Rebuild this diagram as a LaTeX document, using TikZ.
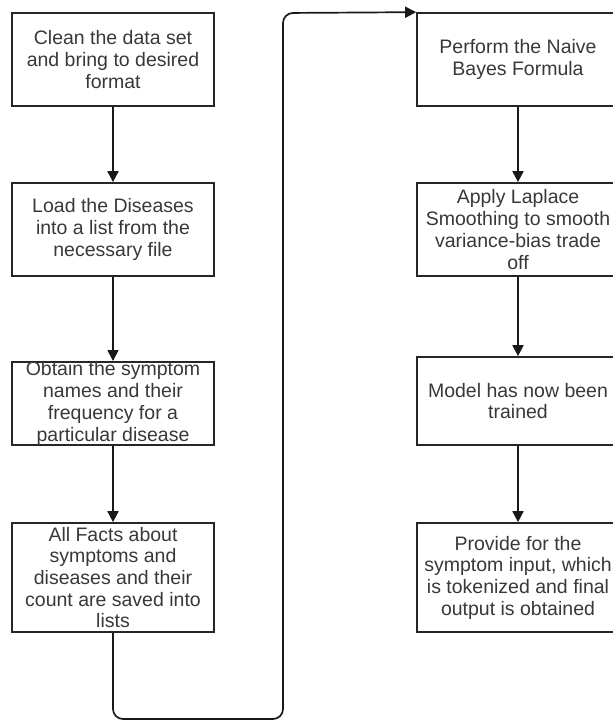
\documentclass[tikz,border=0pt]{standalone}
\usepackage{fontspec}
\setmainfont{Liberation Sans}
\usetikzlibrary{arrows.meta}
\begin{document}
\begin{tikzpicture}[x=1pt,y=-1pt,
  box/.style={draw=black!85, line width=1.7pt, minimum width=202pt, inner sep=0pt, align=center, text=black!78, font=\fontsize{19.5}{21.7}\selectfont},
  conn/.style={draw=black!90, line width=1.7pt, -{Triangle[length=11pt,width=11pt]}}]
\useasboundingbox (0,0) rectangle (613,721);
\clip (0,0) rectangle (613,721);
% left column
\node[box, minimum height=93pt] (b1) at (113,59.5) {Clean the data set\\and bring to desired\\format};
\node[box, minimum height=93pt] (b2) at (113,229.5) {Load the Diseases\\into a list from the\\necessary file};
\node[box, minimum height=83pt] (b3) at (113,403.5) {Obtain the symptom\\names and their\\frequency for a\\particular disease};
\node[box, minimum height=109pt] (b4) at (113,577.5) {All Facts about\\symptoms and\\diseases and their\\count are saved into\\lists};
% right column
\node[box, minimum height=93pt] (b5) at (518,59.5) {Perform the Naive\\Bayes Formula};
\node[box, minimum height=93pt] (b6) at (518,229.5) {Apply Laplace\\Smoothing to smooth\\variance-bias trade\\off};
\node[box, minimum height=88pt] (b7) at (518,401) {Model has now been\\trained};
\node[box, minimum height=109pt] (b8) at (518,577.5) {Provide for the\\symptom input, which\\is tokenized and final\\output is obtained};
% connectors
\draw[conn] (b1.south) -- (b2.north);
\draw[conn] (b2.south) -- (b3.north);
\draw[conn] (b3.south) -- (b4.north);
\draw[conn] (b5.south) -- (b6.north);
\draw[conn] (b6.south) -- (b7.north);
\draw[conn] (b7.south) -- (b8.north);
\coordinate (c1) at (113,719);
\coordinate (c2) at (283,719);
\coordinate (c3) at (283,13);
\draw[conn, rounded corners=10pt] (b4.south) -- (c1) -- (c2) -- (c3) -- (b5.north west);
\end{tikzpicture}
\end{document}
